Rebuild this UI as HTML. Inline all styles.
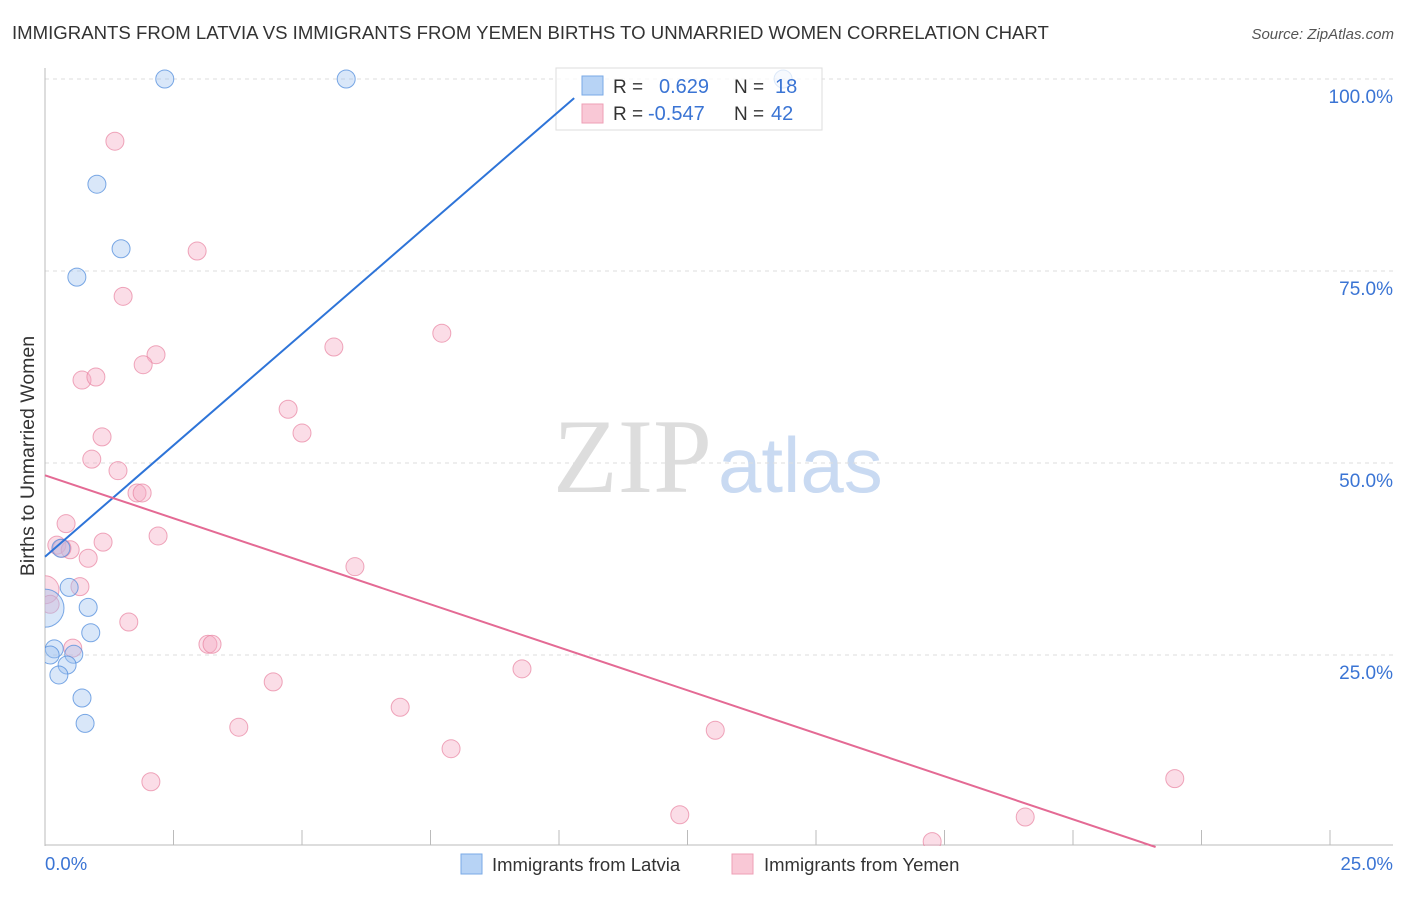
<!DOCTYPE html>
<html><head><meta charset="utf-8"><style>
body{margin:0;background:#fff;font-family:"Liberation Sans",sans-serif}
</style></head><body>
<svg id="c" width="1406" height="892" xmlns="http://www.w3.org/2000/svg" style="font-family:'Liberation Sans',sans-serif">
<text x="12" y="39" font-size="18.6" fill="#333">IMMIGRANTS FROM LATVIA VS IMMIGRANTS FROM YEMEN BIRTHS TO UNMARRIED WOMEN CORRELATION CHART</text>
<text x="1394" y="39" font-size="15" fill="#555" font-style="italic" text-anchor="end">Source: ZipAtlas.com</text>
<text x="34" y="456" font-size="19.5" fill="#333" text-anchor="middle" transform="rotate(-90 34 456)">Births to Unmarried Women</text>
<text x="553" y="492" font-size="106" fill="#ddd" font-family="Liberation Serif">ZIP</text>
<text x="718" y="492" font-size="78" fill="#c9daf2">atlas</text>
<g id="grid"></g><g id="pts"></g>
<g>
<rect x="556" y="68" width="266" height="62" fill="rgba(255,255,255,0.75)" stroke="#ddd"/>
<rect x="582" y="76" width="21" height="19" fill="#b7d3f5" stroke="#7aa9e6"/>
<rect x="582" y="104" width="21" height="19" fill="#f9c8d6" stroke="#ee9fb6"/>
<text x="613" y="93" font-size="19" fill="#333">R = </text><text x="659" y="93" font-size="20" fill="#3a74d4">0.629</text>
<text x="734" y="93" font-size="19" fill="#333">N = </text><text x="775" y="93" font-size="20" fill="#3a74d4">18</text>
<text x="613" y="120" font-size="19" fill="#333">R = </text><text x="648" y="120" font-size="20" fill="#3a74d4">-0.547</text>
<text x="734" y="120" font-size="19" fill="#333">N = </text><text x="771" y="120" font-size="20" fill="#3a74d4">42</text>
</g>
<g id="lines"></g>
<g>
<rect x="461" y="854" width="21" height="20" fill="#b7d3f5" stroke="#7aa9e6"/>
<text x="492" y="871" font-size="18.5" fill="#333">Immigrants from Latvia</text>
<rect x="732" y="854" width="21" height="20" fill="#f9c8d6" stroke="#ee9fb6"/>
<text x="764" y="871" font-size="18.5" fill="#333">Immigrants from Yemen</text>
</g>
<text x="45" y="870" font-size="18.5" fill="#3a74d4">0.0%</text>
<text x="1393" y="870" font-size="18.5" fill="#3a74d4" text-anchor="end">25.0%</text>
</svg>
<script>
const latviaX=[2.33,5.86,14.36,1.01,1.48,0.62,0.31,0.47,0.84,0.89,0.18,0.10,0.56,0.43,0.27,0.72,0.78,0];
const latviaY=[100,100,100,86.3,77.9,74.2,38.9,33.8,31.2,27.9,25.8,25.0,25.1,23.7,22.4,19.4,16.1,31.1];
const yemenX=[1.36,2.96,1.52,7.72,2.16,5.62,1.91,0.72,0.99,4.73,5.0,1.11,0.91,1.42,1.79,1.89,0.41,2.2,1.13,0.23,0.49,0.84,6.03,0.68,0,0.1,1.63,3.17,3.25,0.54,4.44,9.28,6.91,3.77,13.04,7.9,2.06,12.35,21.98,19.07,17.26,0.33];
const yemenY=[91.9,77.6,71.7,66.9,64.1,65.1,62.8,60.8,61.2,57.0,53.9,53.4,50.5,49.0,46.1,46.1,42.1,40.5,39.7,39.3,38.7,37.6,36.5,33.9,33.5,31.6,29.3,26.4,26.4,25.9,21.5,23.2,18.2,15.6,15.2,12.8,8.5,4.2,8.9,3.9,0.7,38.9];
const yTicks=[25,50,75,100];
const yTickLabels=["25.0%","50.0%","75.0%","100.0%"];
const latviaTrend=[37.8,5.8];
const yemenTrend=[48.4,-2.24];
const NS="http://www.w3.org/2000/svg";
const X=v=>45+v*51.4, Y=v=>847-v*7.68;
function mk(t,a,p){const e=document.createElementNS(NS,t);for(const k in a)e.setAttribute(k,a[k]);p.appendChild(e);return e;}
const svg=document.getElementById('c');
const defs=mk('defs',{},svg);const cp=mk('clipPath',{id:'clip'},defs);mk('rect',{x:45,y:60,width:1360,height:786},cp);
const g=document.getElementById('grid');
yTicks.forEach((t,i)=>{const l=mk('line',{x1:45,x2:1393,y1:Y(t),y2:Y(t),stroke:'#ddd','stroke-dasharray':'4,4'},g);


const tx=mk('text',{x:1393,y:Y(t)+24,'font-size':19,fill:'#3a74d4','text-anchor':'end'},g);tx.textContent=yTickLabels[i];

});
mk('line',{x1:45,x2:45,y1:68,y2:846,stroke:'#bbb'},g);
mk('line',{x1:45,x2:1393,y1:845,y2:845,stroke:'#bbb'},g);
for(let i=0;i<=10;i++){const t=mk('line',{x1:X(i*2.5),x2:X(i*2.5),y1:830,y2:845,stroke:'#bbb'},g);

}
const p=document.getElementById('pts');p.setAttribute('clip-path','url(#clip)');
yemenX.forEach((x,i)=>{const c=mk('circle',{cx:X(x),cy:Y(yemenY[i]),r:(x===0?14:9),fill:'rgba(246,170,195,0.4)',stroke:'rgba(232,130,160,0.7)','stroke-width':1},p);

});
latviaX.forEach((x,i)=>{const c=mk('circle',{cx:X(x),cy:Y(latviaY[i]),r:(x===0?19:9),fill:'rgba(160,196,240,0.4)',stroke:'rgba(80,140,220,0.75)','stroke-width':1},p);

});
const L=document.getElementById('lines');
let x2=(100-latviaTrend[0])/latviaTrend[1]*0.96;
const b=mk('line',{x1:X(0),y1:Y(latviaTrend[0]),x2:X(x2),y2:Y(latviaTrend[0]+latviaTrend[1]*x2),stroke:'#2e74d8','stroke-width':2},L);


let x3=-yemenTrend[0]/yemenTrend[1];
const r=mk('line',{x1:X(0),y1:Y(yemenTrend[0]),x2:X(x3),y2:Y(0),stroke:'#e46a94','stroke-width':2},L);


</script>
</body></html>
